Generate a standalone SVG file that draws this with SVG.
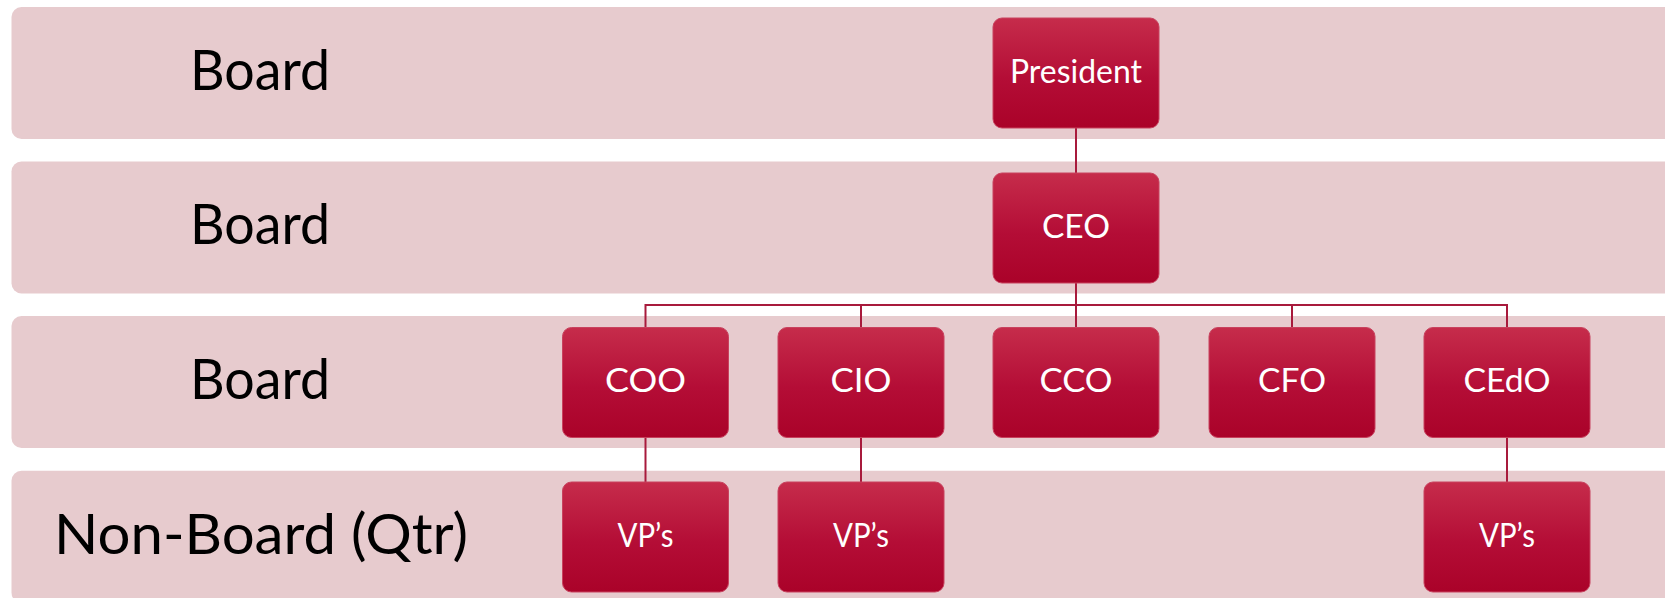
<svg xmlns="http://www.w3.org/2000/svg" width="1665" height="598" viewBox="0 0 1665 598">
<defs>
<linearGradient id="boxg" x1="0" y1="0" x2="0" y2="1">
<stop offset="0" stop-color="#c62c4b"/>
<stop offset="0.55" stop-color="#b40d36"/>
<stop offset="1" stop-color="#aa0229"/>
</linearGradient>
</defs>
<style>
.band{fill:#e7cbce}
.lbl{font-family:Lato,"Liberation Sans",sans-serif;font-size:56px;fill:#000}
.box{fill:url(#boxg);stroke:#c8425e;stroke-width:1}
.bt{font-family:Lato,"Liberation Sans",sans-serif;font-size:32px;fill:#fff;text-anchor:middle}
.con{fill:none;stroke:#a81a3c;stroke-width:2}
</style>
<g id="bands">
<rect class="band" x="11.5" y="7" width="1670" height="132" rx="10"/>
<rect class="band" x="11.5" y="161.5" width="1670" height="132" rx="10"/>
<rect class="band" x="11.5" y="316" width="1670" height="132" rx="10"/>
<rect class="band" x="11.5" y="470.7" width="1670" height="132" rx="10"/>
<text class="lbl" x="190" y="90" textLength="140" lengthAdjust="spacingAndGlyphs">Board</text>
<text class="lbl" x="190" y="244" textLength="140" lengthAdjust="spacingAndGlyphs">Board</text>
<text class="lbl" x="190" y="399" textLength="140" lengthAdjust="spacingAndGlyphs">Board</text>
<text class="lbl" x="54" y="554" textLength="414" lengthAdjust="spacingAndGlyphs">Non-Board (Qtr)</text>
</g>
<g id="connectors">
<path class="con" d="M1076 128 V173"/>
<path class="con" d="M1076 283 V305 M645.5 327.5 V305 H1507 V327.5 M861 305 V327.5 M1292 305 V327.5 M1076 305 V327.5"/>
<path class="con" d="M645.5 437.5 V482 M861 437.5 V482 M1507 437.5 V482"/>
</g>
<g id="president"><rect class="box" x="993" y="18" width="166" height="110" rx="9"/><text class="bt" x="1076" y="82.5" textLength="132" lengthAdjust="spacingAndGlyphs">President</text></g>
<g id="ceo"><rect class="box" x="993" y="173" width="166" height="110" rx="9"/><text class="bt" x="1076" y="237.5" textLength="68" lengthAdjust="spacingAndGlyphs">CEO</text></g>
<g id="coo"><rect class="box" x="562.5" y="327.5" width="166" height="110" rx="9"/><text class="bt" x="645.5" y="391.7" textLength="81" lengthAdjust="spacingAndGlyphs">COO</text></g>
<g id="cio"><rect class="box" x="778" y="327.5" width="166" height="110" rx="9"/><text class="bt" x="861" y="391.7" textLength="61" lengthAdjust="spacingAndGlyphs">CIO</text></g>
<g id="cco"><rect class="box" x="993" y="327.5" width="166" height="110" rx="9"/><text class="bt" x="1076" y="391.7" textLength="73" lengthAdjust="spacingAndGlyphs">CCO</text></g>
<g id="cfo"><rect class="box" x="1209" y="327.5" width="166" height="110" rx="9"/><text class="bt" x="1292" y="391.7" textLength="68" lengthAdjust="spacingAndGlyphs">CFO</text></g>
<g id="cedo"><rect class="box" x="1424" y="327.5" width="166" height="110" rx="9"/><text class="bt" x="1507" y="391.7" textLength="87" lengthAdjust="spacingAndGlyphs">CEdO</text></g>
<g id="vp1"><rect class="box" x="562.5" y="482" width="166" height="110" rx="9"/><text class="bt" x="645.5" y="546.5" textLength="56" lengthAdjust="spacingAndGlyphs">VP’s</text></g>
<g id="vp2"><rect class="box" x="778" y="482" width="166" height="110" rx="9"/><text class="bt" x="861" y="546.5" textLength="56" lengthAdjust="spacingAndGlyphs">VP’s</text></g>
<g id="vp3"><rect class="box" x="1424" y="482" width="166" height="110" rx="9"/><text class="bt" x="1507" y="546.5" textLength="56" lengthAdjust="spacingAndGlyphs">VP’s</text></g>
</svg>
